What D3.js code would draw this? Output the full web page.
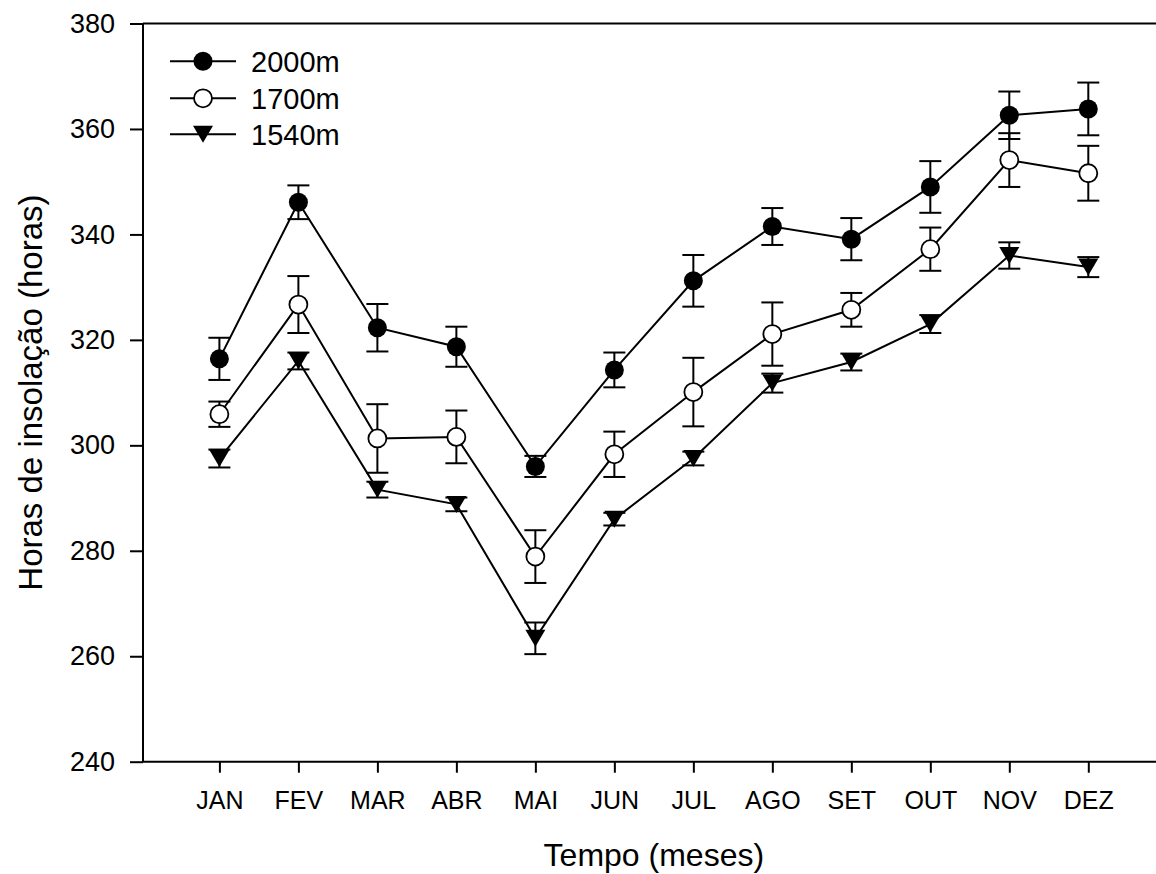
<!DOCTYPE html>
<html>
<head>
<meta charset="utf-8">
<script src="https://cdn.jsdelivr.net/npm/d3@7"></script>
<style>
  html, body { margin: 0; padding: 0; background: #fff; }
  svg { display: block; font-family: "Liberation Sans", Arial, sans-serif; }
</style>
</head>
<body>
<svg id="chart" width="1156" height="874"></svg>
<script>
// Monthly sunshine hours at three altitudes (mean ± error)
const months = ["JAN", "FEV", "MAR", "ABR", "MAI", "JUN", "JUL", "AGO", "SET", "OUT", "NOV", "DEZ"];
const seriesNames = ["2000m", "1700m", "1540m"];

const values2000 = [316.4, 346.1, 322.3, 318.7, 296.0, 314.3, 331.2, 341.5, 339.1, 349.0, 362.6, 363.8];
const errors2000 = [4.0, 3.2, 4.5, 3.8, 2.0, 3.3, 4.9, 3.5, 4.0, 4.9, 4.5, 5.0];

const values1700 = [305.9, 326.7, 301.3, 301.6, 278.9, 298.3, 310.1, 321.1, 325.7, 337.2, 354.1, 351.6];
const errors1700 = [2.4, 5.4, 6.5, 5.0, 5.0, 4.3, 6.5, 6.0, 3.2, 4.1, 5.1, 5.2];

const values1540 = [297.5, 316.0, 291.6, 288.8, 263.4, 286.0, 297.5, 311.8, 315.8, 323.0, 336.0, 333.8];
const errors1540 = [1.7, 1.6, 1.5, 1.3, 3.0, 1.2, 1.3, 1.8, 1.6, 1.7, 2.5, 1.9];

const yTicks = [240, 260, 280, 300, 320, 340, 360, 380];

const series = [
  { name: seriesNames[0], values: values2000, errors: errors2000, symbol: "filledCircle" },
  { name: seriesNames[1], values: values1700, errors: errors1700, symbol: "openCircle" },
  { name: seriesNames[2], values: values1540, errors: errors1540, symbol: "downTriangle" }
];

const svg = d3.select("#chart");
const axisLeftX = 143, axisRightX = 1160;
const axisTopY = 23.5, axisBottomY = 761.7;

const x = d3.scaleLinear().domain([0, months.length - 1]).range([219.4, 1088.3]);
const y = d3.scaleLinear().domain([240, 380]).range([axisBottomY, axisTopY]);

const font = "'Liberation Sans', Arial, sans-serif";

// Frame: left axis, top line, bottom axis
const frame = svg.append("g").attr("stroke", "#000").attr("stroke-width", 2).attr("fill", "none");
frame.append("line").attr("x1", axisLeftX).attr("x2", axisLeftX).attr("y1", axisTopY).attr("y2", axisBottomY);
frame.append("line").attr("x1", axisLeftX).attr("x2", axisRightX).attr("y1", axisTopY).attr("y2", axisTopY);
frame.append("line").attr("x1", axisLeftX).attr("x2", axisRightX).attr("y1", axisBottomY).attr("y2", axisBottomY);

// Y axis
const yAxis = d3.axisLeft(y).tickValues(yTicks).tickSizeOuter(0).tickSizeInner(13).tickPadding(15);
const gy = svg.append("g").attr("transform", `translate(${axisLeftX},0)`).call(yAxis);
gy.select(".domain").remove();
gy.selectAll(".tick line").attr("stroke", "#000").attr("stroke-width", 2);
gy.selectAll(".tick text").attr("fill", "#000").style("font-family", font).style("font-size", "27px");

// X axis
const xAxis = d3.axisBottom(x).tickValues(d3.range(months.length)).tickFormat(i => months[i])
  .tickSizeOuter(0).tickSizeInner(11).tickPadding(19);
const gx = svg.append("g").attr("transform", `translate(0,${axisBottomY})`).call(xAxis);
gx.select(".domain").remove();
gx.selectAll(".tick line").attr("stroke", "#000").attr("stroke-width", 2);
gx.selectAll(".tick text").attr("fill", "#000").style("font-family", font).style("font-size", "25px");

// Axis titles
svg.append("text")
  .attr("x", x(5.5)).attr("y", 866)
  .attr("text-anchor", "middle")
  .style("font-family", font).style("font-size", "32px")
  .text("Tempo (meses)");

svg.append("text")
  .attr("transform", `translate(42,${y(310)}) rotate(-90)`)
  .attr("text-anchor", "middle")
  .style("font-family", font).style("font-size", "33px")
  .text("Horas de insolação (horas)");

// Marker drawing
function drawMarker(g, type, cx, cy) {
  if (type === "filledCircle") {
    g.append("circle").attr("cx", cx).attr("cy", cy).attr("r", 9.5).attr("fill", "#000");
  } else if (type === "openCircle") {
    g.append("circle").attr("cx", cx).attr("cy", cy).attr("r", 9).attr("fill", "#fff")
      .attr("stroke", "#000").attr("stroke-width", 1.8);
  } else {
    const w = 20, h = 17;
    g.append("path")
      .attr("d", `M${cx - w / 2},${cy - h / 2}L${cx + w / 2},${cy - h / 2}L${cx},${cy + h / 2}Z`)
      .attr("fill", "#000");
  }
}

const line = d3.line().x((d, i) => x(i)).y(d => y(d));
const plot = svg.append("g");

series.forEach(s => {
  plot.append("path").datum(s.values).attr("d", line)
    .attr("fill", "none").attr("stroke", "#000").attr("stroke-width", 2);
});

series.forEach(s => {
  const g = plot.append("g").attr("stroke", "#000").attr("stroke-width", 2);
  s.values.forEach((v, i) => {
    const hi = y(v + s.errors[i]), lo = y(v - s.errors[i]);
    g.append("line").attr("x1", x(i)).attr("x2", x(i)).attr("y1", hi).attr("y2", lo);
    g.append("line").attr("x1", x(i) - 11).attr("x2", x(i) + 11).attr("y1", hi).attr("y2", hi);
    g.append("line").attr("x1", x(i) - 11).attr("x2", x(i) + 11).attr("y1", lo).attr("y2", lo);
  });
});

series.forEach(s => {
  const g = plot.append("g");
  s.values.forEach((v, i) => drawMarker(g, s.symbol, x(i), y(v)));
});

// Legend
const legendRows = [61.3, 98.3, 134.3];
const legend = svg.append("g");
series.forEach((s, k) => {
  const ly = legendRows[k];
  legend.append("line").attr("x1", 170).attr("x2", 236).attr("y1", ly).attr("y2", ly)
    .attr("stroke", "#000").attr("stroke-width", 2);
  drawMarker(legend, s.symbol, 203, ly);
  legend.append("text").attr("x", 251).attr("y", ly).attr("dy", "0.36em")
    .style("font-family", font).style("font-size", "29px").text(s.name);
});
</script>
</body>
</html>
